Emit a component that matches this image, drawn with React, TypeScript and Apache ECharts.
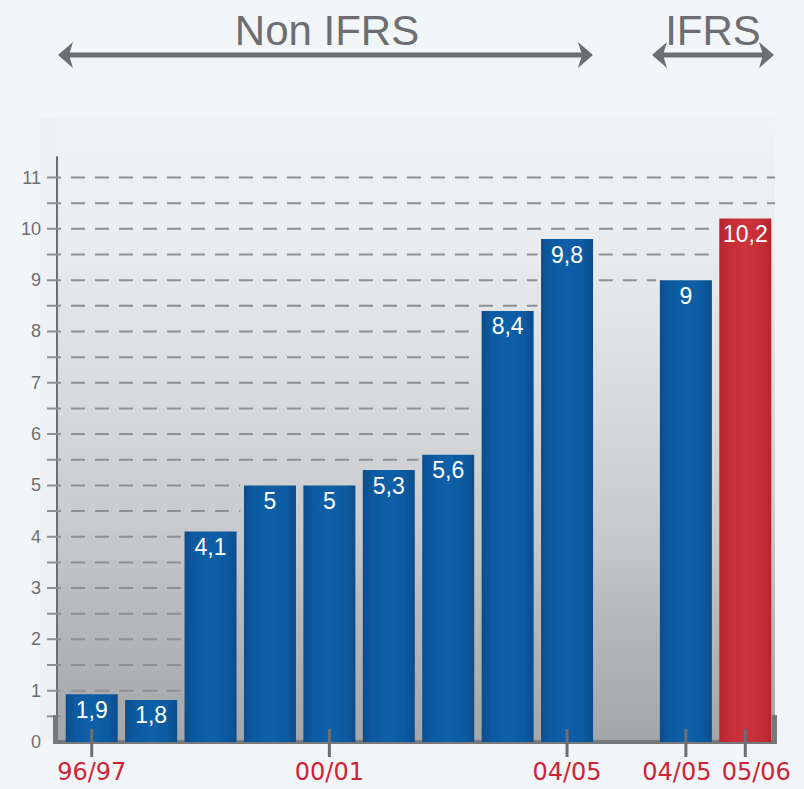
import React, { useEffect, useRef } from 'react';
import * as echarts from 'echarts';

// ---- data ----
const categories = ['96/97', '97/98', '98/99', '99/00', '00/01', '01/02', '02/03', '03/04', '04/05', '', '04/05', '05/06'];
// bar heights as drawn in the picture (the first two bars are drawn shorter than their printed values)
const barHeights = [0.93, 0.82, 4.1, 5, 5, 5.3, 5.6, 8.4, 9.8, null, 9, 10.2];
const printedValues = ['1,9', '1,8', '4,1', '5', '5', '5,3', '5,6', '8,4', '9,8', '', '9', '10,2'];
const labelledCategories = [0, 4, 8, 10, 11];
const yTickLabels = [0, 1, 2, 3, 4, 5, 6, 7, 8, 9, 10, 11];
const gridLevels = [0.5, 1, 1.5, 2, 2.5, 3, 3.5, 4, 4.5, 5, 5.5, 6, 6.5, 7, 7.5, 8, 8.5, 9, 9.5, 10, 10.5, 11];
const sectionTitles = ['Non IFRS', 'IFRS'];
const highlightedBar = 11;

const GRAY = '#6d6e71';
const RED_TEXT = '#cf2437';

export default function App() {
  const ref = useRef<HTMLDivElement>(null);

  useEffect(() => {
    if (!ref.current) return;
    const chart = echarts.init(ref.current, null, { renderer: 'svg' });

    const blue = new echarts.graphic.LinearGradient(0, 0, 1, 0, [
      { offset: 0, color: '#0b4d8c' },
      { offset: 0.18, color: '#0c5a9f' },
      { offset: 0.5, color: '#0e60a8' },
      { offset: 0.82, color: '#0c5a9f' },
      { offset: 1, color: '#0b4d8c' },
    ]);
    const red = new echarts.graphic.LinearGradient(0, 0, 1, 0, [
      { offset: 0, color: '#b4252f' },
      { offset: 0.18, color: '#c52d37' },
      { offset: 0.5, color: '#cc333d' },
      { offset: 0.82, color: '#c52d37' },
      { offset: 1, color: '#b4252f' },
    ]);
    const bgGrad = new echarts.graphic.LinearGradient(0, 0, 0, 1, [
      { offset: 0, color: '#f2f3f5' },
      { offset: 0.21, color: '#eaebed' },
      { offset: 0.45, color: '#d9dadc' },
      { offset: 0.69, color: '#c6c7ca' },
      { offset: 0.8, color: '#b7b8bb' },
      { offset: 1, color: '#a4a6a8' },
    ]);

    const n = categories.length;
    const h = (j: number) => (j < 0 || j >= n ? 0 : (barHeights[j] ?? 0));

    const option: any = {
      animation: false,
      backgroundColor: '#f3f6f9',
      grid: { left: 62, right: 29, top: 157, bottom: 47 },
      xAxis: {
        type: 'category',
        data: categories,
        axisLine: { show: true, lineStyle: { color: '#76787b', width: 4 } },
        axisTick: { show: false },
        axisLabel: {
          interval: (idx: number) => labelledCategories.includes(idx),
          margin: 18,
          formatter: (v: string, idx: number) =>
            idx === 10 ? `{l|${v}}` : idx === 11 ? `{r|${v}}` : `{c|${v}}`,
          rich: {
            c: { fontFamily: 'DejaVu Sans', fontSize: 24, color: RED_TEXT },
            l: { fontFamily: 'DejaVu Sans', fontSize: 24, color: RED_TEXT, padding: [0, 18, 0, 0] },
            r: { fontFamily: 'DejaVu Sans', fontSize: 24, color: RED_TEXT, padding: [0, 0, 0, 22] },
          },
        },
      },
      yAxis: {
        type: 'value',
        min: 0,
        max: 11.4,
        interval: 1,
        offset: 5,
        axisLine: { show: true, lineStyle: { color: GRAY, width: 2 } },
        axisTick: { show: false },
        splitLine: { show: false },
        axisLabel: {
          margin: 16,
          fontFamily: 'Liberation Sans',
          fontSize: 18,
          color: GRAY,
          formatter: (v: number) => (yTickLabels.includes(v) ? String(v) : ''),
        },
      },
      series: [
        {
          type: 'custom',
          name: 'grid',
          silent: true,
          z: 1,
          data: gridLevels.map((l) => [0, l]),
          encode: { x: 0, y: 1 },
          renderItem: (params: any, api: any) => {
            const L = api.value(1);
            const pitch = api.size([1, 0])[0];
            const y = api.coord([0, L])[1];
            const x0 = api.coord([0, 0])[0] - pitch / 2;
            const tickStart = x0 - 15;
            const visible = (j: number) => L > h(j) && (L >= h(j + 1) || L > h(j - 1));
            const segs: number[][] = [[tickStart, x0]];
            for (let j = 0; j < n; j++) {
              if (!visible(j)) continue;
              const s = api.coord([j, 0])[0] - pitch / 2;
              const e = s + pitch;
              const last = segs[segs.length - 1];
              if (Math.abs(last[1] - s) < 1) last[1] = e;
              else segs.push([s, e]);
            }
            return {
              type: 'group',
              children: segs.map((sg) => ({
                type: 'line',
                shape: { x1: sg[0], y1: y, x2: sg[1], y2: y },
                style: {
                  stroke: '#8d8f92',
                  lineWidth: 2,
                  lineDash: [14, 10],
                  lineDashOffset: sg[0] - tickStart,
                },
              })),
            };
          },
        },
        {
          type: 'bar',
          z: 2,
          barWidth: 52,
          data: barHeights.map((v, i) => ({
            value: v,
            itemStyle: { color: i === highlightedBar ? red : blue },
          })),
          label: {
            show: true,
            position: 'insideTop',
            distance: 4,
            color: '#ffffff',
            fontFamily: 'Liberation Sans',
            fontSize: 23,
            formatter: (p: any) => printedValues[p.dataIndex],
          },
        },
        {
          type: 'custom',
          name: 'ticks',
          silent: true,
          z: 3,
          data: labelledCategories.map((i) => [i, 0]),
          encode: { x: 0, y: 1 },
          renderItem: (params: any, api: any) => {
            const p = api.coord([api.value(0), 0]);
            return {
              type: 'line',
              shape: { x1: p[0], y1: p[1] - 13, x2: p[0], y2: p[1] + 15 },
              style: { stroke: '#6b6e72', lineWidth: 3 },
            };
          },
        },
      ],
      graphic: [
        { type: 'rect', z: -10, silent: true, shape: { x: 40, y: 117, width: 17, height: 624 }, style: { fill: '#eef0f3' } },
        { type: 'rect', z: -10, silent: true, shape: { x: 57, y: 117, width: 718, height: 624 }, style: { fill: bgGrad } },
        // base bracket
        { type: 'rect', z: 5, silent: true, shape: { x: 53, y: 715, width: 5, height: 28 }, style: { fill: '#76787b' } },
        { type: 'rect', z: 5, silent: true, shape: { x: 772, y: 715, width: 5, height: 29 }, style: { fill: '#76787b' } },
        { type: 'rect', z: 5, silent: true, shape: { x: 53, y: 740, width: 12, height: 4 }, style: { fill: '#76787b' } },
        // section arrows
        { type: 'line', silent: true, shape: { x1: 64, y1: 55, x2: 588, y2: 55 }, style: { stroke: GRAY, lineWidth: 5 } },
        { type: 'polygon', silent: true, shape: { points: [[593, 55], [578, 42], [582, 55], [578, 68]] }, style: { fill: GRAY } },
        { type: 'polygon', silent: true, shape: { points: [[58, 55], [73, 42], [69, 55], [73, 68]] }, style: { fill: GRAY } },
        { type: 'line', silent: true, shape: { x1: 656, y1: 55, x2: 769, y2: 55 }, style: { stroke: GRAY, lineWidth: 5 } },
        { type: 'polygon', silent: true, shape: { points: [[652, 55], [667, 42], [663, 55], [667, 68]] }, style: { fill: GRAY } },
        { type: 'polygon', silent: true, shape: { points: [[774, 55], [759, 42], [763, 55], [759, 68]] }, style: { fill: GRAY } },
        {
          type: 'text', silent: true, x: 327, y: 30,
          style: { text: sectionTitles[0], fontFamily: 'Liberation Sans', fontSize: 42, fill: GRAY, align: 'center', verticalAlign: 'middle' },
        },
        {
          type: 'text', silent: true, x: 713, y: 30,
          style: { text: sectionTitles[1], fontFamily: 'Liberation Sans', fontSize: 42, fill: GRAY, align: 'center', verticalAlign: 'middle' },
        },
      ],
    };

    chart.setOption(option);
    return () => chart.dispose();
  }, []);

  return (
    <div
      ref={ref}
      style={{ position: 'fixed', left: 0, top: 0, width: 804, height: 789, background: '#f3f6f9' }}
    />
  );
}
